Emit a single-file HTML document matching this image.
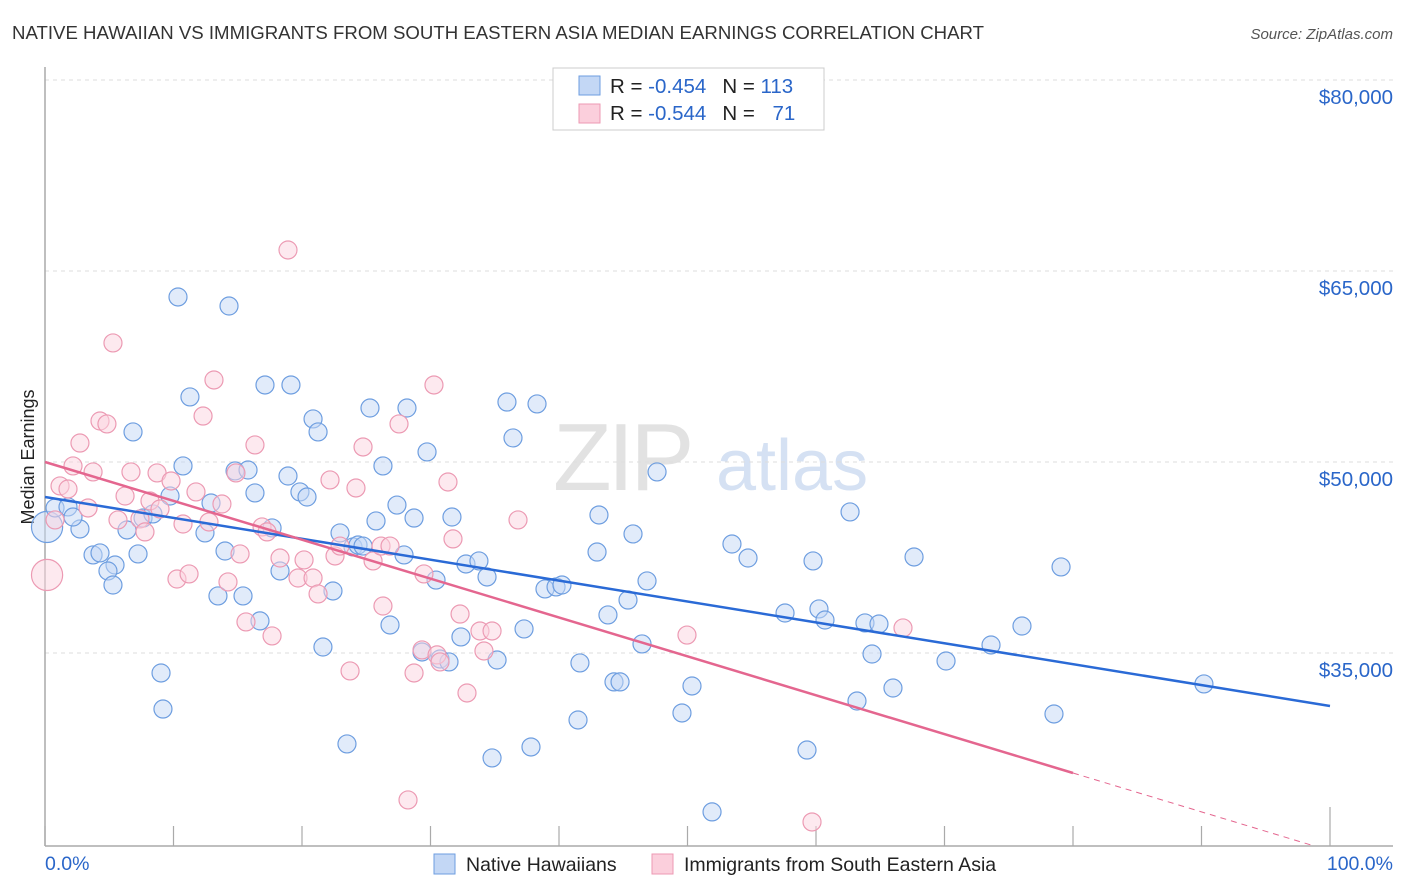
<!DOCTYPE html>
<html><head><meta charset="utf-8"><style>
body{margin:0;background:#fff;font-family:"Liberation Sans",sans-serif;}
#wrap{position:relative;width:1406px;height:892px;overflow:hidden;}
svg text{font-family:"Liberation Sans",sans-serif;}
</style></head><body>
<div id="wrap">
<svg id="chart" width="1406" height="892">
<text x="12" y="39" font-size="18" fill="#333" textLength="972" lengthAdjust="spacingAndGlyphs">NATIVE HAWAIIAN VS IMMIGRANTS FROM SOUTH EASTERN ASIA MEDIAN EARNINGS CORRELATION CHART</text>
<text x="1393" y="39" font-size="15" fill="#555" font-style="italic" text-anchor="end">Source: ZipAtlas.com</text>
<text x="34" y="457" font-size="18" fill="#222" text-anchor="middle" transform="rotate(-90 34 457)">Median Earnings</text>
<g>
<text x="553" y="490" font-size="96" fill="#e2e2e2" font-family="Liberation Serif" letter-spacing="-4">ZIP</text>
<text x="716" y="490" font-size="72" fill="#d5e1f3">atlas</text>
</g>
<g id="grid"></g><g id="axes"></g><g id="pts"></g><g id="trends"></g>
<g>
<rect x="553" y="68" width="271" height="62" fill="#fff" stroke="#ccc"/>
<rect x="579" y="76" width="21" height="19" fill="#c3d7f5" stroke="#6e9ee0"/>
<rect x="579" y="104" width="21" height="19" fill="#fbcfdc" stroke="#ec9ab3"/>
<text x="610" y="93" font-size="20.5" fill="#222">R = <tspan fill="#2a66c9">-0.454</tspan><tspan dx="16">N = </tspan><tspan fill="#2a66c9">113</tspan></text>
<text x="610" y="120" font-size="20.5" fill="#222">R = <tspan fill="#2a66c9">-0.544</tspan><tspan dx="16">N = </tspan><tspan fill="#2a66c9" dx="12">71</tspan></text>
</g>
<g>
<rect x="434" y="854" width="21" height="20" fill="#c3d7f5" stroke="#6e9ee0"/>
<text x="466" y="871" font-size="19.5" fill="#222">Native Hawaiians</text>
<rect x="652" y="854" width="21" height="20" fill="#fbcfdc" stroke="#ec9ab3"/>
<text x="684" y="871" font-size="19.5" fill="#222">Immigrants from South Eastern Asia</text>
</g>
</svg></div>
<script>
const yTicks=[80000,65000,50000,35000];
const yTickLabels=["$80,000","$65,000","$50,000","$35,000"];
const xTickVals=[0,10,20,30,40,50,60,70,80,90,100];
const xEndLabels=["0.0%","100.0%"];
const blueX=[0.16,0.78,1.79,2.72,2.18,3.74,4.28,5.45,4.90,5.29,6.38,6.85,7.24,7.63,8.40,9.03,9.18,9.73,10.35,10.74,11.28,12.45,12.92,13.46,14.01,14.32,14.79,15.41,15.80,16.34,16.73,17.12,17.67,18.29,18.91,19.14,19.84,20.39,20.86,21.25,21.63,22.41,22.96,23.50,23.97,24.36,24.75,25.29,25.76,26.30,26.85,27.39,27.94,28.17,28.72,29.34,29.73,30.43,30.74,31.44,31.67,32.37,32.76,33.77,34.40,34.79,35.18,35.95,36.42,37.28,37.82,38.29,38.91,39.77,40.23,41.63,41.48,42.96,43.11,43.81,44.28,44.75,45.37,45.76,46.46,46.85,47.63,49.57,50.35,51.91,53.46,54.71,57.59,59.30,59.77,60.23,60.70,62.65,63.19,63.81,64.36,64.90,65.99,67.63,70.12,73.62,76.03,78.52,79.07,90.19];
const blueY=[44.90,46.39,46.47,44.74,45.68,42.70,42.86,41.91,41.44,40.34,44.66,52.36,42.78,45.60,45.92,33.43,30.60,47.33,62.96,49.69,55.11,44.43,46.78,39.48,43.01,62.25,49.30,39.48,49.37,47.57,37.52,56.05,44.82,41.44,48.90,56.05,47.65,47.25,53.38,52.36,35.47,39.87,44.43,27.86,43.33,43.48,43.40,54.24,45.37,49.69,37.20,46.62,42.70,54.24,45.60,35.08,50.79,40.73,34.53,34.30,45.68,36.26,41.99,42.23,40.97,26.76,34.45,54.71,51.89,36.89,27.62,54.56,40.03,40.19,40.34,34.22,29.74,42.93,45.84,37.99,32.73,32.73,39.16,44.35,35.71,40.66,49.22,30.29,32.41,22.52,43.56,42.46,38.14,27.38,42.23,38.46,37.59,46.08,31.23,37.36,34.92,37.28,32.25,42.54,34.37,35.63,37.12,30.21,41.76,32.57];
const blueW=[3];
const pinkX=[0.16,0.78,1.17,1.79,2.18,2.72,3.35,3.74,4.28,4.82,5.29,5.68,6.23,6.69,7.39,7.78,8.17,8.72,8.95,9.81,10.27,10.74,11.21,11.75,12.30,12.76,13.15,13.77,14.24,14.86,15.18,15.64,16.34,16.89,17.28,17.67,18.29,18.91,19.69,20.16,20.86,21.25,22.18,22.57,22.96,23.74,24.20,24.75,25.53,26.15,26.30,26.85,27.55,28.25,28.72,29.34,29.49,30.27,30.51,30.74,31.36,31.75,32.30,32.84,33.85,34.16,34.79,36.81,49.96,59.69,66.77];
const pinkY=[41.13,45.45,48.12,47.88,49.69,51.49,46.39,49.22,53.22,52.99,59.35,45.45,47.33,49.22,45.53,44.51,46.94,49.14,46.31,48.51,40.81,45.13,41.21,47.65,53.61,45.29,56.44,46.70,40.58,49.14,42.78,37.44,51.34,44.90,44.51,36.34,42.46,66.65,40.89,42.31,40.89,39.64,48.59,42.62,43.40,33.59,47.96,51.18,42.23,43.40,38.69,43.40,52.99,23.46,33.43,35.24,41.21,56.05,34.85,34.30,48.43,43.96,38.06,31.86,36.73,35.16,36.73,45.45,36.41,21.73,36.97];
const pinkW=[3];
const blueTrend=[47.25,30.84];
const pinkTrend=[50.0,19.47];
const pinkSolidEnd=80;

const NS="http://www.w3.org/2000/svg";
const X0=45,X1=1330,YTOP=67,YBOT=846;
const xs=p=>X0+p/100*(X1-X0);
const ys=v=>80+(80-v)*191/15;
function mk(tag,attrs,parent){const e=document.createElementNS(NS,tag);for(const k in attrs)e.setAttribute(k,attrs[k]);parent.appendChild(e);return e;}
const grid=document.getElementById('grid'),axes=document.getElementById('axes'),pts=document.getElementById('pts'),tr=document.getElementById('trends');
yTicks.forEach((t,i)=>{const y=ys(t/1000);
 const l=mk('line',{x1:X0,x2:1393,y1:y,y2:y,stroke:'#ddd','stroke-dasharray':'4 4'},grid);
 
 
 const tx=mk('text',{x:1393,y:y+24,'font-size':20.5,fill:'#2a66c9','text-anchor':'end'},axes);tx.textContent=yTickLabels[i];
 
 
});
const ya=mk('line',{x1:X0,x2:X0,y1:YTOP,y2:YBOT,stroke:'#aaa','stroke-width':1.5},axes);


const xa=mk('line',{x1:X0,x2:1393,y1:YBOT,y2:YBOT,stroke:'#aaa','stroke-width':1.5},axes);


xTickVals.forEach((t,i)=>{const x=xs(t);
 const tk=mk('line',{x1:x,x2:x,y1:(t===100?807:826),y2:YBOT,stroke:'#aaa','stroke-width':1.2},axes);
 
 
});
const xl0=mk('text',{x:45,y:870,'font-size':19.5,fill:'#2a66c9'},axes);xl0.textContent=xEndLabels[0];


const xl1=mk('text',{x:1393,y:870,'font-size':19.5,fill:'#2a66c9','text-anchor':'end'},axes);xl1.textContent=xEndLabels[1];


function series(X,Y,W,fill,stroke,name){X.forEach((p,i)=>{
 const c=mk('circle',{cx:xs(p),cy:ys(Y[i]),r:W[i]?9*Math.sqrt(W[i]):9,fill:fill,'fill-opacity':0.5,stroke:stroke,'stroke-width':1.2},pts);
 
 
});}
series(blueX,blueY,blueW,'#c3d7f5','#6e9ee0','native-hawaiian-point');
series(pinkX,pinkY,pinkW,'#fbd3df','#ec9ab3','immigrant-point');
const bl=mk('line',{x1:xs(0),y1:ys(blueTrend[0]),x2:xs(100),y2:ys(blueTrend[1]),stroke:'#2a6ad6','stroke-width':2.5},tr);


const pv=p=>pinkTrend[0]+(pinkTrend[1]-pinkTrend[0])*p/100;
const pl=mk('line',{x1:xs(0),y1:ys(pv(0)),x2:xs(pinkSolidEnd),y2:ys(pv(pinkSolidEnd)),stroke:'#e4668f','stroke-width':2.5},tr);


let pEnd=100;const bottomV=80-(YBOT-80)*15/191;
if(pv(100)<bottomV)pEnd=(bottomV-pinkTrend[0])/(pinkTrend[1]-pinkTrend[0])*100;
const pd=mk('line',{x1:xs(pinkSolidEnd),y1:ys(pv(pinkSolidEnd)),x2:xs(pEnd),y2:ys(pv(pEnd)),stroke:'#e4668f','stroke-width':1,'stroke-dasharray':'6 5'},tr);


</script>
</body></html>
